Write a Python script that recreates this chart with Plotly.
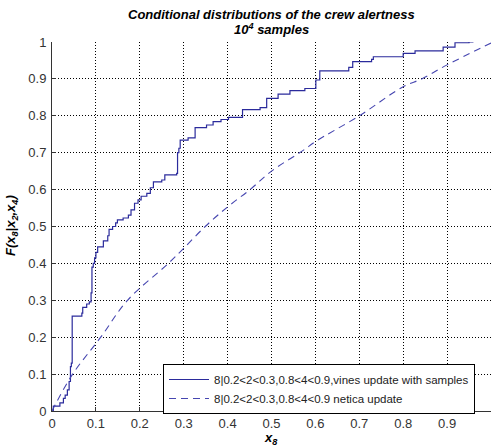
import plotly.graph_objects as go

# Solid: empirical CDF (vines update with samples) – step points (x where jump occurs, value after)
vines_x = [0, 0.003, 0.018, 0.026, 0.030, 0.035, 0.039, 0.042, 0.044, 0.046, 0.068, 0.070,
           0.079, 0.085, 0.089, 0.091, 0.094, 0.097, 0.100, 0.104, 0.117, 0.127, 0.130,
           0.138, 0.145, 0.149, 0.162, 0.174, 0.180, 0.188, 0.196, 0.203, 0.216, 0.224,
           0.231, 0.250, 0.257, 0.284, 0.286, 0.289, 0.292, 0.310, 0.326, 0.352, 0.367,
           0.385, 0.402, 0.434, 0.474, 0.489, 0.515, 0.542, 0.576, 0.601, 0.610, 0.676,
           0.685, 0.728, 0.732, 0.800, 0.827, 0.891, 0.918, 0.950, 0.960]
vines_y = [0, 0.013, 0.022, 0.034, 0.043, 0.057, 0.080, 0.120, 0.130, 0.257, 0.265, 0.281,
           0.290, 0.296, 0.320, 0.390, 0.400, 0.415, 0.430, 0.445, 0.461, 0.475, 0.492,
           0.500, 0.510, 0.518, 0.523, 0.531, 0.545, 0.563, 0.572, 0.582, 0.590, 0.605,
           0.621, 0.626, 0.640, 0.644, 0.700, 0.712, 0.734, 0.740, 0.768, 0.775, 0.784,
           0.790, 0.796, 0.817, 0.822, 0.847, 0.859, 0.868, 0.874, 0.897, 0.922, 0.931,
           0.947, 0.953, 0.960, 0.969, 0.976, 0.986, 0.998, 1.000, 1.000]

# Dashed: netica update
netica_x = [0, 0.007, 0.047, 0.111, 0.172, 0.265, 0.300, 0.349, 0.400, 0.451, 0.500,
            0.573, 0.600, 0.700, 0.800, 0.842, 0.900, 1.000]
netica_y = [0, 0.016, 0.100, 0.200, 0.300, 0.400, 0.441, 0.500, 0.553, 0.600, 0.650,
            0.707, 0.730, 0.800, 0.879, 0.900, 0.938, 0.997]

tick_vals = [0, 0.1, 0.2, 0.3, 0.4, 0.5, 0.6, 0.7, 0.8, 0.9, 1]
tick_text = ["0", "0.1", "0.2", "0.3", "0.4", "0.5", "0.6", "0.7", "0.8", "0.9", "1"]

name_vines = "8|0.2<2<0.3,0.8<4<0.9,vines update with samples"
name_netica = "8|0.2<2<0.3,0.8<4<0.9 netica update"

FONT = "Liberation Sans, Arial, sans-serif"

L, R, T, B = 52, 0, 42, 37
W, H = 491, 448
pw, ph = W - L - R, H - T - B


def px(xp):
    return (xp - L) / pw


def py(yp):
    return (H - yp - B) / ph


fig = go.Figure()
fig.add_trace(go.Scatter(x=vines_x, y=vines_y, mode="lines", line_shape="hv",
                         line=dict(color="#2b2b9c", width=1.2), name=name_vines))
fig.add_trace(go.Scatter(x=netica_x, y=netica_y, mode="lines", line_shape="spline",
                         line=dict(color="#4646b0", width=1.1, dash="7px,5px"), name=name_netica))

axis_common = dict(
    range=[0, 1], tickvals=tick_vals, ticktext=tick_text,
    showgrid=True, gridcolor="#000000", gridwidth=1, griddash="1px,2px",
    zeroline=False, showline=True, linecolor="#333333", linewidth=1,
    ticks="inside", ticklen=4, tickcolor="#333333",
    tickfont=dict(family=FONT, size=13, color="#333333"),
    mirror=False, fixedrange=True,
)

fig.update_layout(
    width=W, height=H,
    margin=dict(l=L, r=R, t=T, b=B),
    paper_bgcolor="white", plot_bgcolor="white",
    xaxis=dict(**axis_common, ticklabelstandoff=0),
    yaxis=dict(**axis_common, ticklabelstandoff=2),
    showlegend=True,
    legend=dict(x=px(163), y=py(364), xanchor="left", yanchor="top",
                bgcolor="white", bordercolor="#000000", borderwidth=1,
                font=dict(family=FONT, size=11.5, color="#222222"),
                tracegroupgap=0, itemwidth=40),
    annotations=[
        dict(text="<b><i>Conditional distributions of the crew alertness</i></b>",
             x=px(271), y=py(15), xref="paper", yref="paper", showarrow=False,
             xanchor="center", yanchor="middle",
             font=dict(family=FONT, size=13, color="#000000")),
        dict(text="<b><i>10<sup>4</sup> samples</i></b>",
             x=px(271), y=py(29), xref="paper", yref="paper", showarrow=False,
             xanchor="center", yanchor="middle",
             font=dict(family=FONT, size=13, color="#000000")),
        dict(text="<b><i>x<sub>8</sub></i></b>",
             x=px(271), y=py(438), xref="paper", yref="paper", showarrow=False,
             xanchor="center", yanchor="middle",
             font=dict(family=FONT, size=13, color="#000000")),
        dict(text="<b><i>F(x<sub>8</sub>|x<sub>2</sub>,x<sub>4</sub>)</i></b>",
             x=px(11), y=py(226), xref="paper", yref="paper", showarrow=False, textangle=-90,
             xanchor="center", yanchor="middle",
             font=dict(family=FONT, size=13, color="#000000")),
    ],
)

fig.write_html("out.html")
